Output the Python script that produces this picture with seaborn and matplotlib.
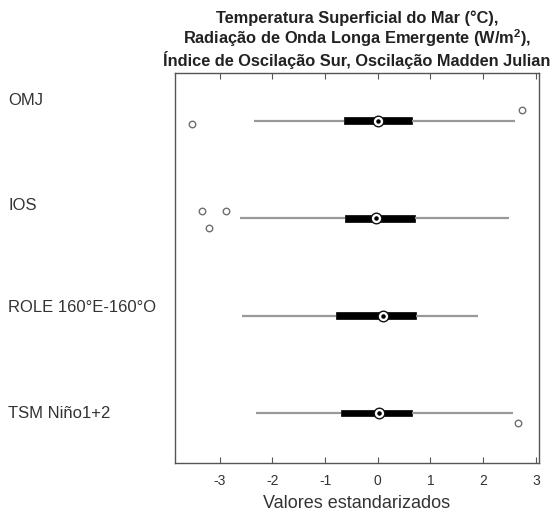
import numpy as np
import pandas as pd
import matplotlib
matplotlib.use("Agg")
import matplotlib.pyplot as plt
import seaborn as sns

categories = ["OMJ", "IOS", "ROLE 160°E-160°O", "TSM Niño1+2"]
whis_low = [-2.35, -2.62, -2.58, -2.31]
q1 = [-0.65, -0.62, -0.80, -0.70]
median = [0.0, -0.03, 0.09, 0.02]
q3 = [0.65, 0.70, 0.73, 0.64]
whis_high = [2.60, 2.49, 1.91, 2.57]

outlier_cat = ["OMJ", "OMJ", "IOS", "IOS", "IOS", "TSM Niño1+2"]
outlier_val = [-3.53, 2.74, -3.33, -2.89, -3.20, 2.67]
outlier_jitter = [0.03, -0.11, -0.07, -0.07, 0.10, 0.10]

xticks = [-3, -2, -1, 0, 1, 2, 3]

sns.set_theme(style="white")
plt.rcParams["font.family"] = ["Liberation Sans", "DejaVu Sans"]
plt.rcParams["mathtext.fontset"] = "custom"
plt.rcParams["mathtext.rm"] = "Liberation Sans"
plt.rcParams["mathtext.bf"] = "Liberation Sans:bold"

rows = []
for c, a, b, m, d, e in zip(categories, whis_low, q1, median, q3, whis_high):
    for v in (a, b, m, d, e):
        rows.append({"category": c, "value": v})
df = pd.DataFrame(rows)

fig = plt.figure(figsize=(5.54, 5.18), dpi=100)
ax = fig.add_axes([175 / 554, 1 - 462.7 / 518, (539 - 175) / 554, (462.7 - 73) / 518])

sns.boxplot(
    data=df, x="value", y="category", order=categories, orient="h",
    whis=(0, 100), width=0.07, showfliers=False, ax=ax,
    color="black", linecolor="black", linewidth=0.5,
    whiskerprops=dict(color="#999999", linewidth=1.6),
    capprops=dict(linewidth=0),
    medianprops=dict(linewidth=0),
)

pos = {c: i for i, c in enumerate(categories)}
ax.scatter(median, range(len(categories)), s=58, facecolor="white",
           edgecolor="#111111", linewidth=1.0, zorder=5)
ax.scatter(median, range(len(categories)), s=5, color="black", zorder=6)
ax.scatter(outlier_val, [pos[c] + j for c, j in zip(outlier_cat, outlier_jitter)],
           s=22, facecolor="white", edgecolor="#707070", linewidth=1.0, zorder=5)

ax.set_xlim(-3.85, 3.06)
ax.set_ylim(3.51, -0.49)
ax.set_xticks(xticks)
ax.set_xticklabels([str(t) for t in xticks])
ax.set_yticks([])
ax.set_ylabel("")
ax.set_xlabel("Valores estandarizados", fontsize=13, color="#333333", labelpad=5)
ax.tick_params(axis="x", direction="in", top=True, bottom=True, length=4,
               width=0.8, color="#555555", labelsize=10, labelcolor="#333333", pad=8)
for s in ax.spines.values():
    s.set_visible(True)
    s.set_color("#555555")
    s.set_linewidth(1.0)

ax.set_title("Temperatura Superficial do Mar (°C),\n"
             r"Radiação de Onda Longa Emergente (W/m$^{\mathbf{2}}$),"
             "\nÍndice de Oscilação Sur, Oscilação Madden Julian",
             fontsize=11.8, fontweight="bold", color="#222222", pad=5, linespacing=1.12)

label_y = [100, 205, 308, 413]
for lab, y in zip(categories, label_y):
    fig.text(8 / 554, 1 - y / 518, lab, ha="left", va="center",
             fontsize=12, color="#333333")

fig.savefig("out.png", dpi=100)
